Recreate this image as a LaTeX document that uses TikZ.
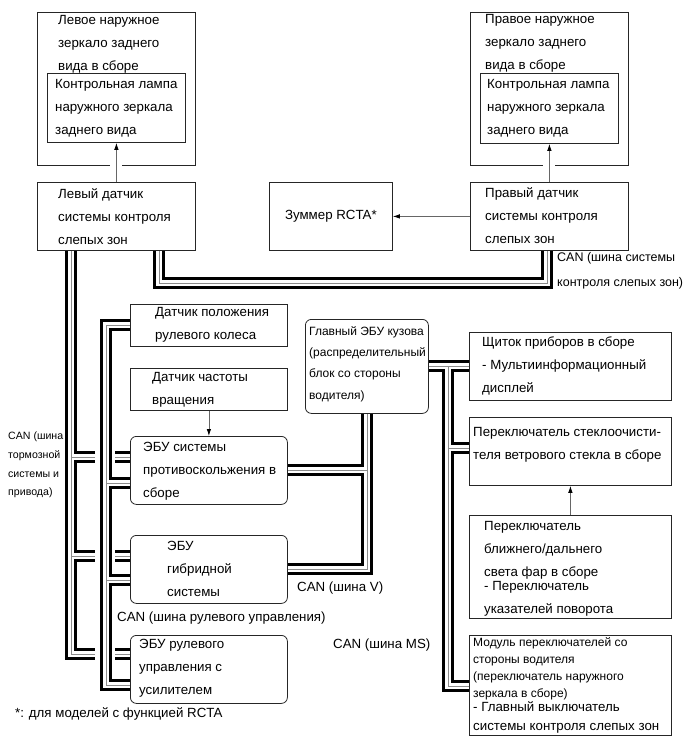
\documentclass[tikz,border=0pt]{standalone}
\usepackage{fontspec}
\setmainfont{Liberation Sans}
\usetikzlibrary{arrows.meta, backgrounds}
\begin{document}
\begin{tikzpicture}[x=1pt, y=-1pt, line join=miter,
		box/.style={draw=black!85, line width=0.8pt, inner sep=0pt, anchor=north west},
		ecu/.style={box, rounded corners=6pt},
		txt/.style={font=\fontsize{13.3}{23}\selectfont, align=left, inner sep=0pt, anchor=west},
		lbl/.style={font=\fontsize{13.3}{23}\selectfont, inner sep=0pt, anchor=west},
		sig/.style={draw=black!60, line width=0.8pt, -{Latex[length=7pt, width=4.5pt, color=black]}}]
	\useasboundingbox (0,0) rectangle (690,756);
	% boxes
	\node[box, minimum width=158pt, minimum height=153pt] (lmir) at (37,12) {};
	\node[box, minimum width=138pt, minimum height=69pt] (llamp) at (47,73) {};
	\node[box, minimum width=158pt, minimum height=68pt] (lsens) at (37,182) {};
	\node[box, minimum width=158pt, minimum height=153pt] (rmir) at (470,12) {};
	\node[box, minimum width=138pt, minimum height=70pt] (rlamp) at (480,73) {};
	\node[box, minimum width=158pt, minimum height=68pt] (rsens) at (470,182) {};
	\node[box, minimum width=123pt, minimum height=68pt] (buzz) at (269,182) {};
	\node[box, minimum width=157pt, minimum height=42pt] (steer) at (130,304) {};
	\node[box, minimum width=157pt, minimum height=42pt] (speed) at (130,368) {};
	\node[ecu, minimum width=157pt, minimum height=68pt] (skid) at (130,436) {};
	\node[ecu, minimum width=157pt, minimum height=68pt] (hyb) at (130,535) {};
	\node[ecu, minimum width=157pt, minimum height=68pt] (eps) at (130,635) {};
	\node[ecu, minimum width=123pt, minimum height=94pt] (body) at (305,319) {};
	\node[box, minimum width=202pt, minimum height=68pt] (meter) at (469,332) {};
	\node[box, minimum width=202pt, minimum height=68pt] (wiper) at (469,417) {};
	\node[box, minimum width=202pt, minimum height=103pt] (head) at (469,515) {};
	\node[box, minimum width=202pt, minimum height=100pt] (swmod) at (469,635) {};

	% signal lines
	\draw[white, line width=2pt] ([xshift=-6pt]lmir.south) -- ([xshift=6pt]lmir.south);
	\draw[white, line width=2pt] ([xshift=-6pt]rmir.south) -- ([xshift=6pt]rmir.south);
	\draw[sig] (lsens.north) -- (llamp.south);
	\draw[sig] (rsens.north) -- (rlamp.south);
	\draw[sig] (rsens.west) -- (buzz.east);
	\draw[sig] (speed.south) -- (skid.north);
	\draw[sig] (head.north) -- (wiper.south);

	% CAN lines
	\begin{scope}[on background layer]
		\foreach \w/\c in {12pt/black, 6.4pt/white, 0.8pt/black!45} {
			\draw[line width=\w, draw=\c]
				% blind spot bus
				(lsens.south -| 159,0) |- (547,283) -- (rsens.south -| 547,0)
				% brake bus
				(lsens.south -| 71,0) |- (95,654)
				(71,457) -- (95,457) (71,556) -- (95,556)
				(115,457) -- (skid.west |- 0,457)
				(115,556) -- (hyb.west |- 0,556)
				(115,654) -- (eps.west |- 0,654)
				% steering bus
				(steer.west |- 0,325) -| (106,685) -- (eps.west |- 0,685)
				(106,483) -- (skid.west |- 0,483)
				(106,580) -- (hyb.west |- 0,580)
				% V bus
				(body.south -| 367,0) |- (hyb.east |- 0,569)
				(367,470) -- (skid.east |- 0,470)
				% MS bus
				(body.east |- 0,366) -- (meter.west |- 0,366)
				(448,366) |- (swmod.west |- 0,686)
				(448,448) -- (wiper.west |- 0,448);
		}
	\end{scope}

	% texts
	\node[txt] (lmir-t) at (58,44) {Левое наружное\\зеркало заднего\\вида в сборе};
	\node[txt] (llamp-t) at (55,108) {Контрольная лампа\\наружного зеркала\\заднего вида};
	\node[txt] (lsens-t) at (58,217) {Левый датчик\\системы контроля\\слепых зон};
	\node[txt] (rmir-t) at (485,43) {Правое наружное\\зеркало заднего\\вида в сборе};
	\node[txt] (rlamp-t) at (487,108) {Контрольная лампа\\наружного зеркала\\заднего вида};
	\node[txt] (rsens-t) at (485,216) {Правый датчик\\системы контроля\\слепых зон};
	\node[lbl, anchor=center] (buzz-t) at (buzz.center) {Зуммер RCTA*};
	\node[txt] (steer-t) at (155,325) {Датчик положения\\рулевого колеса};
	\node[txt] (speed-t) at (152,390) {Датчик частоты\\вращения};
	\node[txt] (skid-t) at (143,471) {ЭБУ системы\\противоскольжения в\\сборе};
	\node[txt] (hyb-t) at (167,569) {ЭБУ\\гибридной\\системы};
	\node[txt] (eps-t) at (139,668) {ЭБУ рулевого\\управления с\\усилителем};
	\node[txt, font=\fontsize{12}{21.3}\selectfont] (body-t) at (309,364) {Главный ЭБУ кузова\\(распределительный\\блок со стороны\\водителя)};
	\node[txt] (meter-t) at (482,366) {Щиток приборов в сборе\\- Мультиинформационный\\дисплей};
	\node[txt] (wiper-t) at (473,445) {Переключатель стеклоочисти-\\теля ветрового стекла в сборе};
	\node[txt] (head-t) at (484,569) {Переключатель\\ближнего/дальнего\\света фар в сборе\\[-9pt]- Переключатель\\указателей поворота};
	\node[txt, font=\fontsize{12}{17}\selectfont] (swmod-t) at (473,668.5) {Модуль переключателей со\\стороны водителя\\(переключатель наружного\\зеркала в сборе)};
	\node[txt, font=\fontsize{13.3}{19}\selectfont] (swmod-t2) at (473,717.5) {- Главный выключатель\\системы контроля слепых зон};

	% bus labels
	\node[txt, font=\fontsize{12.5}{25}\selectfont] (can-bs) at (557,270.5) {CAN (шина системы\\контроля слепых зон)};
	\node[txt, font=\fontsize{10.6}{18.7}\selectfont] (can-br) at (8,465) {CAN (шина\\тормозной\\системы и\\привода)};
	\node[lbl] (can-st) at (117,618) {CAN (шина рулевого управления)};
	\node[lbl] (can-v) at (297,588) {CAN (шина V)};
	\node[lbl] (can-ms) at (333,645) {CAN (шина MS)};
	\node[lbl] (note) at (15,714) {*: для моделей с функцией RCTA};
\end{tikzpicture}
\end{document}
